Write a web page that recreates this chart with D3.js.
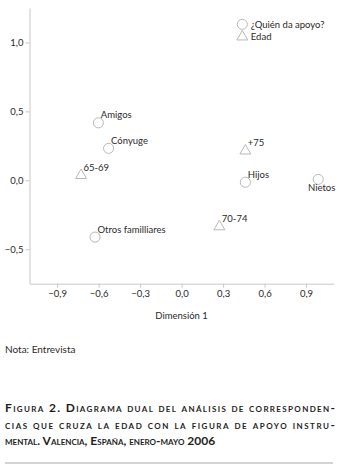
<!DOCTYPE html>
<html><head><meta charset="utf-8">
<script src="https://cdn.jsdelivr.net/npm/d3@7"></script>
<style>
html,body{margin:0;padding:0;background:#fff;}
svg{display:block;font-family:"Gill Sans","Gill Sans MT",Lato,"Open Sans",sans-serif;}
</style></head>
<body>
<svg id="c" width="344" height="472"></svg>
<script>
// ---- data ----
const supportNames = ["Amigos","Cónyuge","Hijos","Nietos","Otros familliares"];
const supportX = [-0.602,-0.528,0.461,0.988,-0.626];
const supportY = [0.417,0.232,-0.014,0.007,-0.412];
const ageNames = ["+75","65-69","70-74"];
const ageX = [0.461,-0.727,0.273];
const ageY = [0.214,0.036,-0.336];
const xTicks = [-0.9,-0.6,-0.3,0.0,0.3,0.6,0.9];
const yTicks = [-0.5,0.0,0.5,1.0];
const legendLabels = ["¿Quién da apoyo?","Edad"];
const xTitle = "Dimensión 1";
const note = "Nota: Entrevista";
const titleLines = [
  "Figura 2. Diagrama dual del análisis de corresponden-",
  "cias que cruza la edad con la figura de apoyo instru-",
  "mental. Valencia, España, enero-mayo 2006"
];

const svg = d3.select("#c");
const W = 344;
const plot = {left:29.5,right:333.7,top:8,bottom:283.7};
const x = d3.scaleLinear().domain([-1.1,1.1]).range([plot.left,plot.right]);
const y = d3.scaleLinear().domain([-0.75,1.25]).range([plot.bottom,plot.top]);
const fmt = d => d3.format(".1f")(d).replace(".",",");
const axisCol = "#c8c8c8", textCol = "#2a2a2a", markCol = "#b8b8b8";
const fs = "9.5px";

// axes
const gx = svg.append("g").attr("transform",`translate(0,${plot.bottom})`)
  .call(d3.axisBottom(x).tickValues(xTicks).tickFormat(fmt).tickSizeOuter(0).tickSizeInner(4).tickPadding(3));
const gy = svg.append("g").attr("transform",`translate(${plot.left},0)`)
  .call(d3.axisLeft(y).tickValues(yTicks).tickFormat(fmt).tickSizeOuter(0).tickSizeInner(4).tickPadding(2));
[gx,gy].forEach(g=>{
  g.attr("font-family",null).attr("font-size",null);
  g.select(".domain").attr("stroke",axisCol);
  g.selectAll(".tick line").attr("stroke",axisCol);
  g.selectAll(".tick text").attr("fill",textCol).style("font-size",fs);
});

svg.append("text").attr("x",x(0)).attr("y",319).attr("text-anchor","middle")
  .attr("fill",textCol).style("font-size",fs).text(xTitle);

const circleSym = d3.symbol().type(d3.symbolCircle).size(80);
const triSym = d3.symbol().type(d3.symbolTriangle).size(52);

const support = supportNames.map((n,i)=>({name:n,x:supportX[i],y:supportY[i],type:"c"}));
const age = ageNames.map((n,i)=>({name:n,x:ageX[i],y:ageY[i],type:"t"}));
const pts = support.concat(age);

const g = svg.append("g");
g.selectAll("path.m").data(pts).join("path").attr("class","m")
  .attr("transform",d=>`translate(${x(d.x)},${y(d.y)})`)
  .attr("d",d=>d.type==="c"?circleSym():triSym())
  .attr("fill","#fff").attr("stroke",markCol).attr("stroke-width",1);

// labels
g.selectAll("text.l").data(pts).join("text").attr("class","l")
  .attr("fill",textCol).style("font-size",fs)
  .text(d=>d.name)
  .each(function(d){
    const t = d3.select(this);
    const px = x(d.x), py = y(d.y);
    const w = this.getComputedTextLength();
    if (px + 2.5 + w > W - 2) {
      t.attr("x",px+3.5).attr("y",py+11.5).attr("text-anchor","middle");
    } else {
      t.attr("x",px+2.5).attr("y",py-4.5);
    }
  });

// legend
const leg = svg.append("g").attr("transform","translate(242.3,24.3)");
leg.append("path").attr("d",circleSym()).attr("fill","#fff").attr("stroke",markCol);
leg.append("path").attr("transform","translate(0,12.5)").attr("d",triSym()).attr("fill","#fff").attr("stroke",markCol);
legendLabels.forEach((l,i)=>{
  leg.append("text").attr("x",8.5).attr("y",i*12.5+3.3).attr("fill",textCol)
    .style("font-size",fs).text(l);
});

// note
svg.append("text").attr("x",5).attr("y",353).attr("fill",textCol)
  .style("font-size","10px").text(note);

// title
const tg = svg.append("g");
titleLines.forEach((line,i)=>{
  const t = tg.append("text").attr("x",5).attr("y",412+i*16.5)
    .attr("fill","#1e1e1e").style("font-size","12px").style("font-weight","bold")
    .style("font-variant","small-caps").text(line);
  if (i<2) t.attr("textLength",330).attr("lengthAdjust","spacing");
});
svg.append("line").attr("x1",5).attr("x2",333).attr("y1",463).attr("y2",463)
  .attr("stroke","#aaa").attr("stroke-width",1.2);
</script>
</body></html>
